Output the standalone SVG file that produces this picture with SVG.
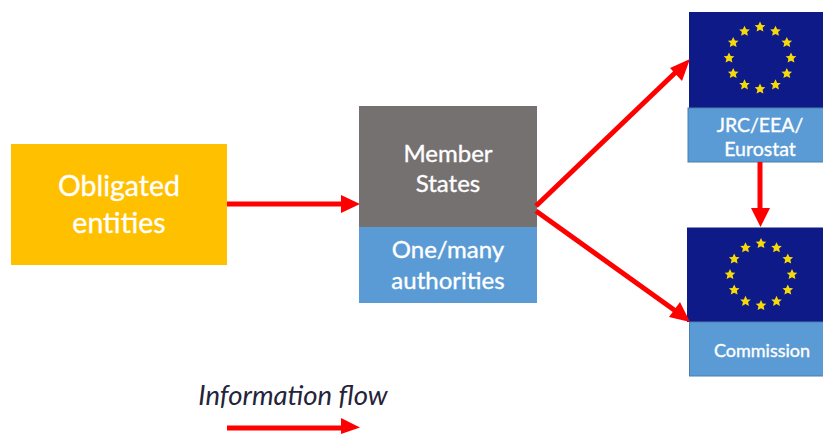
<svg xmlns="http://www.w3.org/2000/svg" xmlns:xlink="http://www.w3.org/1999/xlink" width="823" height="434" viewBox="0 0 823 434">
<style>
text{font-family:"Lato","Carlito","Open Sans",sans-serif;fill:#fff;text-anchor:middle;stroke:#fff;stroke-width:0.35}
.flag{fill:#0e1a87}
.lbl{fill:#5b9bd5;stroke:#4a7eac;stroke-width:1}
.star{fill:#f5d90a}
.conn{stroke:#ff0000;stroke-width:5;fill:none}
.head{fill:#ff0000}
</style>
<defs>
<polygon id="s" class="star" points="0,-5.500 1.700,-1.900 5.300,-1.700 2.600,0.800 3.400,4.600 0,2.700 -3.400,4.600 -2.600,0.800 -5.300,-1.700 -1.700,-1.900"/>
<g id="ring">
<use xlink:href="#s" href="#s" x="0" y="-31"/><use xlink:href="#s" href="#s" x="15.500" y="-26.800"/><use xlink:href="#s" href="#s" x="26.800" y="-15.500"/><use xlink:href="#s" href="#s" x="31" y="0"/><use xlink:href="#s" href="#s" x="26.800" y="15.500"/><use xlink:href="#s" href="#s" x="15.500" y="26.800"/><use xlink:href="#s" href="#s" x="0" y="31"/><use xlink:href="#s" href="#s" x="-15.500" y="26.800"/><use xlink:href="#s" href="#s" x="-26.800" y="15.500"/><use xlink:href="#s" href="#s" x="-31" y="0"/><use xlink:href="#s" href="#s" x="-26.800" y="-15.500"/><use xlink:href="#s" href="#s" x="-15.500" y="-26.800"/>
</g>
</defs>
<g id="obligated-entities">
<rect x="11" y="144" width="216" height="121" fill="#ffc000"/>
<text x="119" y="196" font-size="28.500">Obligated</text>
<text x="119" y="233" font-size="28.500">entities</text>
</g>
<g id="member-states">
<rect x="359" y="106" width="178" height="121" fill="#767171"/>
<text x="448" y="162" font-size="24">Member</text>
<text x="448" y="192" font-size="24">States</text>
</g>
<g id="authorities">
<rect x="359" y="227" width="178" height="76" fill="#5b9bd5"/>
<text x="448" y="258" font-size="24">One/many</text>
<text x="448" y="289" font-size="24">authorities</text>
</g>
<g id="jrc">
<rect x="689" y="12" width="134" height="96" class="flag"/>
<use xlink:href="#ring" href="#ring" x="760" y="58"/>
<rect x="688" y="108" width="136" height="54" class="lbl"/>
<text x="760" y="132" font-size="19.500">JRC/EEA/</text>
<text x="760" y="156" font-size="19.500">Eurostat</text>
</g>
<g id="commission">
<rect x="687" y="227.500" width="136" height="94.500" class="flag"/>
<use xlink:href="#ring" href="#ring" x="761" y="274.500"/>
<rect x="689.500" y="322" width="134" height="54" class="lbl"/>
<text x="762" y="357" font-size="18">Commission</text>
</g>
<g id="connectors">
<line class="conn" x1="227" y1="204" x2="342" y2="204"/>
<polygon class="head" points="360,204 341,195 341,213"/>
<line class="conn" x1="536" y1="206" x2="677" y2="71"/>
<polygon class="head" points="690,59 670,68 682,81"/>
<line class="conn" x1="536" y1="211" x2="677" y2="312"/>
<polygon class="head" points="690,322 669,317 680,302"/>
<line class="conn" x1="760" y1="162" x2="760" y2="210"/>
<polygon class="head" points="760.500,227 751,208 770,208"/>
<line class="conn" x1="227" y1="428" x2="342" y2="428"/>
<polygon class="head" points="360,427.500 341,418 341,434"/>
</g>
<text id="legend" x="293" y="405" font-size="27.500" font-style="italic" style="fill:#24243a;stroke:none">Information flow</text>
</svg>
